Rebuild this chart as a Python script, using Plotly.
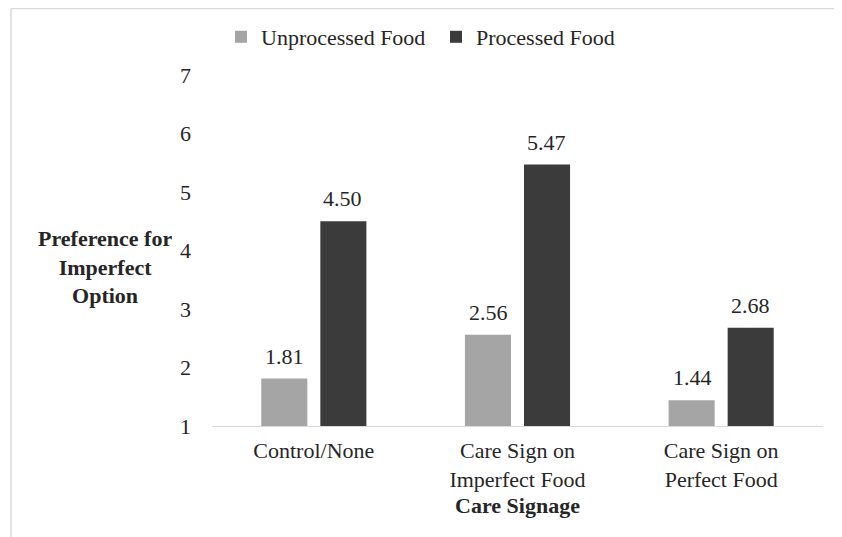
import plotly.graph_objects as go

categories = ["Control/None", "Care Sign on<br>Imperfect Food", "Care Sign on<br>Perfect Food"]
unprocessed = [1.81, 2.56, 1.44]
processed = [4.50, 5.47, 2.68]
series_names = ["Unprocessed Food", "Processed Food"]
y_ticks = [1, 2, 3, 4, 5, 6, 7]

FONT = "Liberation Serif, Times New Roman, serif"
C_LIGHT = "#a5a5a5"
C_DARK = "#3b3b3b"
TXT = "#262626"
FS = 22

# page has an 8px body margin; work in figure coordinates
W, H = 834, 529
L, T = 204, 67
PR, PB = 815, 418          # plot right / bottom in figure coords
R, B = W - PR, H - PB
pw, ph = PR - L, PB - T

fig = go.Figure()
fig.add_trace(go.Bar(x=categories, y=unprocessed, name=series_names[0],
                     marker=dict(color=C_LIGHT, line=dict(width=0))))
fig.add_trace(go.Bar(x=categories, y=processed, name=series_names[1],
                     marker=dict(color=C_DARK, line=dict(width=0))))

# value labels
for vals, shift in ((unprocessed, -29), (processed, 29)):
    for c, v in zip(categories, vals):
        fig.add_annotation(x=c, y=v, xref="x", yref="y", text=f"{v:.2f}",
                           showarrow=False, yanchor="bottom", xshift=shift, yshift=8,
                           font=dict(family=FONT, size=FS, color=TXT))

# y-axis title (horizontal)
fig.add_annotation(x=(97 - L) / pw, y=(PB - 259) / ph, xref="paper", yref="paper",
                   text="<b>Preference for<br>Imperfect<br>Option</b>", showarrow=False,
                   xanchor="center", yanchor="middle", align="center",
                   font=dict(family=FONT, size=FS, color=TXT))

# outer frame lines (partial border of the chart area)
border = "#d9d9d9"
fig.add_shape(type="line", xref="paper", yref="paper",
              x0=(3 - L) / pw, x1=(W - L) / pw, y0=(PB - 0.5) / ph, y1=(PB - 0.5) / ph,
              line=dict(color=border, width=1.5))
fig.add_shape(type="line", xref="paper", yref="paper",
              x0=(3 - L) / pw, x1=(3 - L) / pw, y0=(PB - 0.5) / ph, y1=(PB - H) / ph,
              line=dict(color=border, width=1.5))

fig.update_layout(
    width=W, height=H,
    margin=dict(l=L, r=R, t=T, b=B, autoexpand=False),
    paper_bgcolor="white", plot_bgcolor="white",
    font=dict(family=FONT, size=FS, color=TXT),
    barmode="group", bargap=0.42, bargroupgap=0.22,
    showlegend=True,
    legend=dict(orientation="h", x=(213 - L) / pw, xanchor="left",
                y=(PB - 29) / ph, yanchor="middle",
                font=dict(family=FONT, size=FS, color=TXT),
                itemwidth=30, entrywidth=170, traceorder="normal"),
    xaxis=dict(showgrid=False, showline=True, linecolor="#d9d9d9", linewidth=1,
               ticks="", ticklabelstandoff=5, tickfont=dict(family=FONT, size=FS, color=TXT),
               title=dict(text="<b>Care Signage</b>", standoff=6,
                          font=dict(family=FONT, size=FS, color=TXT))),
    yaxis=dict(range=[1, 7], tickvals=y_ticks, showgrid=False, zeroline=False,
               showline=False, ticks="", ticklabelstandoff=20,
               tickfont=dict(family=FONT, size=FS, color=TXT)),
)

fig.write_html("out.html")
